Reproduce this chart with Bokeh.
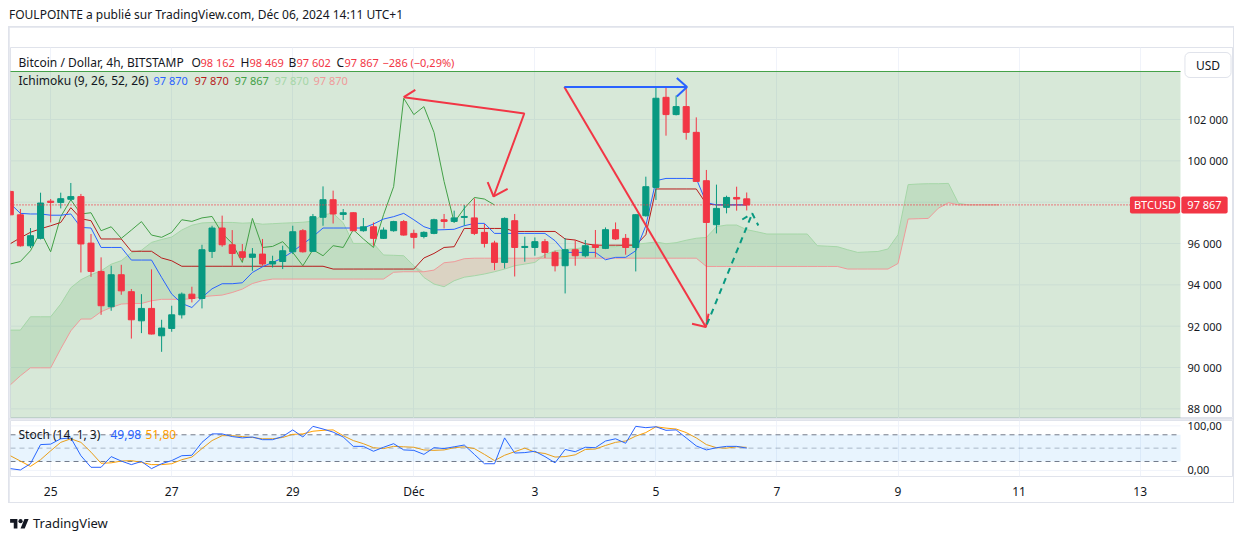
import numpy as np
from bokeh.plotting import figure
from bokeh.models import Range1d, FixedTicker, Label, BoxAnnotation, Div, Grid
from bokeh.layouts import column
from bokeh.embed import file_html
from bokeh.resources import INLINE

# ---------------- data ----------------
# 4h bars, bar 0 = 25 Nov 00:00, 6 bars per day
bars = list(range(-4, 70))
opens = [98520, 97390, 95890, 96250, 98050, 97990, 98140, 98270, 96020, 94650,
         92940, 94490, 93670, 92260, 92860, 91535, 91890, 92550, 93550, 93340,
         95620, 96750, 95940, 95600, 95330, 95490, 95010, 95130, 95600, 96620,
         95620, 97270, 98120, 97410, 97490, 96620, 96810, 96250, 96620, 97060,
         96490, 96340, 96490, 97150, 97070, 97265, 97240, 96540, 96025, 95085,
         97105, 95810, 95810, 96090, 95570, 94925, 95700, 95410, 95930, 95765,
         96670, 96250, 95810, 97345, 98715, 103075, 102240, 102625, 101380, 99040,
         96910, 97750, 98230, 98162]
highs = [98560, 97670, 96750, 98460, 98155, 98460, 98930, 98400, 96460, 95330,
         94925, 94970, 93800, 93550, 94750, 92310, 92990, 93630, 93910, 95940,
         96860, 97350, 96650, 95975, 95780, 96220, 95410, 95895, 96860, 96700,
         97430, 98765, 98560, 97670, 97520, 97235, 97020, 96780, 97100, 97140,
         96670, 96590, 97200, 97430, 97590, 97865, 98185, 96945, 96135, 97265,
         97430, 96330, 96295, 96220, 95650, 96265, 96170, 96170, 96655, 96780,
         97020, 96460, 97420, 99235, 103530, 103595, 103160, 103595, 102105, 99560,
         98850, 98315, 98750, 98469]
lows = [97350, 95850, 95780, 96200, 97020, 97700, 98070, 94600, 94390, 92550,
        92745, 93520, 91400, 91665, 91600, 90760, 91730, 92370, 93150, 92860,
        95300, 95845, 94925, 95170, 94680, 94925, 94840, 94765, 95490, 95560,
        95600, 96860, 96970, 97140, 96600, 96570, 95895, 96220, 96570, 96380,
        95760, 96250, 96450, 96730, 97020, 96860, 96410, 95810, 94715, 94795,
        94405, 95120, 95410, 95300, 94650, 93585, 94925, 95330, 95330, 95730,
        96170, 95460, 94650, 97300, 98105, 101220, 102200, 101025, 99000, 92250,
        96490, 97460, 97590, 97602]
closes = [97390, 95890, 96380, 97960, 97990, 98170, 98270, 95980, 94650, 92990,
          94490, 93710, 92310, 92860, 91620, 91910, 92550, 93550, 93340, 95700,
          96750, 95940, 95520, 95330, 95490, 95010, 95130, 95650, 96570, 95600,
          97300, 98120, 97430, 97490, 96620, 96810, 96250, 96650, 97060, 96410,
          96300, 96540, 97150, 97070, 97240, 97310, 96490, 96005, 95085, 97215,
          95810, 95860, 96090, 95570, 94925, 95700, 95410, 95895, 95810, 96670,
          96220, 95810, 97395, 98750, 103030, 102240, 102625, 101380, 99005, 97020,
          97700, 98230, 98153, 97867]

# Ichimoku (9, 26, 52, 26)
tenkan = [97930, 97460, 97430, 97430, 97370, 97370, 97430, 96780, 96750, 95810,
          95810, 95810, 95200, 95200, 95200, 94360, 93555, 93100, 92905, 93390,
          93810, 94055, 94055, 94100, 94600, 94875, 95085, 95300, 95615, 95975,
          96330, 96750, 96750, 96750, 96750, 96750, 96945, 97185, 97300, 97460,
          97150, 96815, 96655, 96670, 96690, 96860, 96975, 96975, 96490, 96490,
          96490, 96490, 96490, 96490, 96135, 95570, 95570, 95570, 95570, 95215,
          95330, 95330, 95650, 96860, 99040, 99150, 99150, 99150, 99140, 97975,
          97870, 97870, 97870, 97870]
kijun = [95990, 96280, 96545, 96715, 96860, 97020, 97735, 97200, 97105, 96220,
         96220, 96220, 95625, 95625, 95625, 95300, 95165, 94900, 94900, 94900,
         94900, 94900, 94900, 94900, 94900, 94900, 94900, 94900, 94900, 94900,
         94900, 94900, 94765, 94765, 94765, 94765, 94765, 94765, 94765, 94765,
         94765, 95300, 95520, 95810, 95845, 96730, 96730, 96730, 96730, 96730,
         96585, 96585, 96585, 96585, 96585, 96220, 96170, 95990, 95920, 95920,
         95920, 95920, 95920, 96425, 98640, 98640, 98640, 98640, 98640, 97915,
         97870, 97870, 97870, 97870]
lag_shift = 25  # lagging span = closes drawn 25 bars back
lead_bars = list(range(-4, 95))
span_a = [91810, 91810, 92455, 92455, 92455, 93070, 93860, 94250, 94490, 94680,
          95000, 95170, 95555, 95675, 96055, 96195, 96315, 96655, 96885, 96995,
          97020, 97020, 97020, 96985, 97005, 96935, 96960, 96985, 97005, 97030,
          97080, 97395, 97460, 97005, 96005, 96005, 96005, 95445, 95430, 95410,
          94925, 94360, 94040, 93910, 94200, 94370, 94440, 94525, 94635, 94765,
          94925, 95005, 95085, 95460, 95650, 95715, 95750, 95810, 95830, 95845,
          95845, 95950, 95965, 96015, 96075, 95990, 96040, 96160, 96255, 96295,
          96815, 96895, 96895, 96670, 96570, 96460, 96460, 96460, 96460, 96460,
          95895, 95870, 95845, 95700, 95570, 95595, 95615, 95735, 96425, 98850,
          98880, 98895, 98895, 98910, 97940, 97870, 97870, 97870, 97870]
span_b = [89160, 89600, 89985, 89985, 89985, 90905, 91775, 92345, 92345, 92700,
          92905, 93070, 93100, 93100, 93230, 93300, 93300, 93300, 93325, 93425,
          93470, 93505, 93630, 93795, 94065, 94200, 94280, 94280, 94280, 94280,
          94280, 94280, 94280, 94280, 94280, 94280, 94280, 94280, 94610, 94635,
          94635, 94635, 94715, 95070, 95120, 95265, 95290, 95290, 95290, 95290,
          95290, 95290, 95290, 95290, 95290, 95290, 95290, 95290, 95290, 95290,
          95290, 95290, 95290, 95290, 95290, 95290, 95290, 95290, 95290, 94890,
          94890, 94890, 94890, 94890, 94890, 94890, 94890, 94890, 94890, 94890,
          94890, 94890, 94890, 94765, 94765, 94765, 94765, 94765, 95035, 97185,
          97200, 97215, 97710, 97975, 97870, 97870, 97870, 97870, 97870]

# Stochastic (14, 1, 3)
stoch_k = [4, 1, 15, 58, 59, 71, 73, 33, 7, 7, 31, 21, 13, 20, 4, 15, 22, 33, 34, 63,
           82, 82, 76, 73, 75, 69, 69, 76, 91, 75, 99, 93, 86, 75, 54, 54, 43, 52, 60, 46,
           45, 36, 51, 49, 53, 57, 36, 15, 15, 73, 39, 40, 43, 31, 17, 47, 42, 52, 51, 66,
           71, 61, 99, 96, 98, 90, 91, 73, 55, 46, 51, 54, 54, 49.98]
stoch_d = [33, 21, 9, 24, 44, 63, 71, 63, 41, 16, 17, 21, 22, 18, 13, 13, 15, 24, 30, 49,
           67, 78, 78, 76, 74, 71, 71, 74, 81, 82, 88, 90, 91, 78, 67, 60, 51, 49, 54, 53,
           52, 46, 45, 46, 51, 53, 49, 36, 22, 34, 42, 50, 41, 38, 30, 31, 35, 47, 48, 56,
           63, 66, 77, 85, 98, 95, 93, 85, 73, 58, 51, 50, 53, 51.8]

day_ticks = [0, 12, 24, 36, 48, 60, 72, 84, 96, 108]
day_labels = ["25", "27", "29", "Déc", "3", "5", "7", "9", "11", "13"]
price_ticks = [88000, 90000, 92000, 94000, 96000, 98000, 100000, 102000]
stoch_ticks = [0, 100]
stoch_tick_labels = ["0,00", "100,00"]
stoch_levels = [80, 50, 20]

# author's drawings: (bar, price) points
rect_top = 104325
arrow1_x = [35.0, 46.95, 43.91]
arrow1_y = [103081, 102292, 98276]
arrow1_tail_x = [36.15, 35.0]
arrow1_tail_y = [103439, 103081]
arrow1_head_x = [43.32, 43.91, 45.30]
arrow1_head_y = [98968, 98276, 98648]
blue_x = [50.92, 63.08]
blue_y = [103570, 103570]
blue_head_x = [62.07, 63.08, 62.07]
blue_head_y = [104010, 103570, 103110]
red2_x = [50.92, 64.95]
red2_y = [103570, 91961]
red2_head_x = [63.58, 64.95, 65.22]
red2_head_y = [92116, 91961, 92600]
green_x = [65.05, 69.55]
green_y = [92082, 97453]
green_head_x = [68.56, 69.55, 70.15]
green_head_y = [97163, 97453, 96873]

# ---------------- styling ----------------
FONT = "Noto Sans"
TXT = "#131722"
UP = "#089981"
DN = "#F23645"
GRID = "#f0f3fa"
K_COL = "#2962FF"
D_COL = "#FFA000"

# frame spans the pane and its price scale (page px 10 .. 1233); pane ends at px 1180
FW, FH, SH = 1223, 371, 56
PX_PER_BAR = 1170 / 115.98
XL = -3.98
XR = XL + FW / PX_PER_BAR
YB, YT = 87533, 105486
SB, ST = -13.7, 112.1


def fmt(v):
    return f"{int(round(v)):,}".replace(",", " ")


def X(px):
    return XL + (px - 10) * (XR - XL) / FW


def Y(py):
    return YT - (py - 47) * (YT - YB) / FH


def SY(py):
    return ST - (py - 420) * (ST - SB) / SH


PANE_R = X(1180)
x_rng = Range1d(XL, XR)


def style_axis(axx, standoff, size):
    axx.axis_line_color = None
    axx.major_tick_line_color = None
    axx.minor_tick_line_color = None
    axx.major_tick_out = 0
    axx.major_tick_in = 0
    axx.minor_tick_out = 0
    axx.major_label_standoff = standoff
    axx.major_label_text_font = FONT
    axx.major_label_text_font_size = size
    axx.major_label_text_color = TXT


def lab(fig, x, y, text, color=TXT, size="12px", align="left", **kw):
    fig.add_layout(Label(x=x, y=y, text=text, text_color=color, text_font=FONT,
                         text_font_size=size, text_align=align, text_baseline="middle", **kw))


# ---------------- main pane ----------------
p = figure(frame_width=FW, frame_height=FH, x_range=x_rng, y_range=Range1d(YB, YT),
           output_backend="svg", toolbar_location=None, x_axis_location=None,
           y_axis_location="right", min_border_left=1, min_border_right=0,
           min_border_top=20, min_border_bottom=0)
p.outline_line_color = "#e0e3eb"
p.background_fill_color = "white"
p.grid.visible = False
p.add_layout(Grid(dimension=0, ticker=FixedTicker(ticks=day_ticks), grid_line_color=GRID), "center")
p.segment(x0=XL, x1=PANE_R, y0=price_ticks, y1=price_ticks, line_color=GRID, line_width=1)
ax = p.yaxis[0]
ax.ticker = FixedTicker(ticks=price_ticks)
ax.major_label_overrides = {t: fmt(t) for t in price_ticks}
style_axis(ax, -46, "11px")

# green rectangle drawing
p.quad(left=XL - 50, right=PANE_R, bottom=70000, top=rect_top, fill_color="#388e3c",
       fill_alpha=0.2, line_color=None)
p.line([XL - 50, PANE_R], [rect_top, rect_top], line_color="#43a047", line_width=1)

# cloud
a = np.array(span_a, dtype=float)
b = np.array(span_b, dtype=float)
p.varea(x=lead_bars, y1=b, y2=np.maximum(a, b), fill_color="#43a047", fill_alpha=0.15)
p.varea(x=lead_bars, y1=a, y2=np.maximum(a, b), fill_color="#f44336", fill_alpha=0.13)
p.line(lead_bars, span_a, line_color="#A5D6A7", line_width=1)
p.line(lead_bars, span_b, line_color="#EF9A9A", line_width=1)
p.line(bars[:len(bars) - lag_shift], closes[lag_shift:], line_color="#43A047", line_width=1)
p.line(bars, kijun, line_color="#B71C1C", line_width=1)
p.line(bars, tenkan, line_color="#2962FF", line_width=1)

# candles
up = [i for i in range(len(bars)) if closes[i] >= opens[i]]
dn = [i for i in range(len(bars)) if closes[i] < opens[i]]
for idx, col in ((up, UP), (dn, DN)):
    xs = [bars[i] for i in idx]
    p.segment(x0=xs, y0=[lows[i] for i in idx], x1=xs, y1=[highs[i] for i in idx],
              line_color=col, line_width=1)
    p.vbar(x=xs, width=0.6, top=[max(opens[i], closes[i]) for i in idx],
           bottom=[min(opens[i], closes[i]) for i in idx], fill_color=col,
           line_color=col, line_width=1)

# last price line
p.line([XL, PANE_R], [closes[-1], closes[-1]], line_color=DN, line_dash="1 2", line_width=1.2)

# drawings
for xs, ys in ((arrow1_x, arrow1_y), (arrow1_tail_x, arrow1_tail_y), (arrow1_head_x, arrow1_head_y),
               (red2_x, red2_y), (red2_head_x, red2_head_y)):
    p.line(xs, ys, line_color="#F23645", line_width=2)
p.line(blue_x, blue_y, line_color="#2962FF", line_width=2)
p.line(blue_head_x, blue_head_y, line_color="#2962FF", line_width=2)
p.line(green_x, green_y, line_color=UP, line_width=2, line_dash="6 5")
p.line(green_head_x, green_head_y, line_color=UP, line_width=2, line_dash="6 5")

# legend rows
chg = closes[-1] - closes[-2]
pct = chg / closes[-2] * 100
row1 = [(18, "Bitcoin / Dollar, 4h, BITSTAMP", TXT, "12px"),
        (191, "O", TXT, "12px"), (200, fmt(opens[-1]), DN, "11px"),
        (240, "H", TXT, "12px"), (249, fmt(highs[-1]), DN, "11px"),
        (288, "B", TXT, "12px"), (296, fmt(lows[-1]), DN, "11px"),
        (336, "C", TXT, "12px"), (344, fmt(closes[-1]), DN, "11px"),
        (382, f"−{abs(int(round(chg)))} (−{abs(pct):.2f}%)".replace(".", ","), DN, "11px")]
for px, t, c, fs in row1:
    lab(p, X(px), Y(62), t, c, fs)
row2 = [(18, "Ichimoku (9, 26, 52, 26)", TXT, "12px"),
        (153, fmt(tenkan[-1]), "#2962FF", "11px"),
        (194, fmt(kijun[-1]), "#B71C1C", "11px"),
        (234, fmt(closes[-1]), "#43A047", "11px"),
        (274, fmt(span_a[-1]), "#A5D6A7", "11px"),
        (313, fmt(span_b[-1]), "#EF9A9A", "11px")]
for px, t, c, fs in row2:
    lab(p, X(px), Y(80), t, c, fs)

# price tags and currency button
lab(p, X(1154.5), closes[-1], "BTCUSD", "white", "11px", "center",
    background_fill_color=DN, padding=(4, 1), border_radius=2)
lab(p, X(1204), closes[-1], fmt(closes[-1]), "white", "11px", "center",
    background_fill_color=DN, padding=(6, 1), border_radius=2)
lab(p, X(1207.5), Y(64.5), "USD", TXT, "12px", "center",
    background_fill_color="white", border_line_color="#e0e3eb", border_line_width=1,
    padding=(11, 4), border_radius=5)

# ---------------- stochastic pane ----------------
s = figure(frame_width=FW, frame_height=SH, x_range=x_rng, y_range=Range1d(SB, ST),
           output_backend="svg", toolbar_location=None, y_axis_location="right",
           min_border_left=1, min_border_right=0, min_border_top=1, min_border_bottom=26)
s.outline_line_color = "#e0e3eb"
s.background_fill_color = "white"
s.grid.visible = False
s.add_layout(Grid(dimension=0, ticker=FixedTicker(ticks=day_ticks), grid_line_color=GRID), "center")
s.segment(x0=XL, x1=PANE_R, y0=stoch_ticks, y1=stoch_ticks, line_color=GRID, line_width=1)
s.add_layout(BoxAnnotation(left=XL, right=PANE_R, bottom=stoch_levels[2], top=stoch_levels[0],
                           fill_color="#2196F3", fill_alpha=0.1, line_color=None))
for lv, al in zip(stoch_levels, (1.0, 0.5, 1.0)):
    s.line([XL, PANE_R], [lv, lv], line_color="#787B86", line_alpha=al,
           line_dash="5 4", line_width=1)
s.line(bars, stoch_d, line_color=D_COL, line_width=1)
s.line(bars, stoch_k, line_color=K_COL, line_width=1)

sy = s.yaxis[0]
sy.ticker = FixedTicker(ticks=stoch_ticks)
sy.major_label_overrides = dict(zip(stoch_ticks, stoch_tick_labels))
style_axis(sy, -46, "11px")
sx = s.xaxis[0]
sx.ticker = FixedTicker(ticks=day_ticks)
sx.major_label_overrides = dict(zip(day_ticks, day_labels))
style_axis(sx, 6, "12px")

lab(s, X(18), SY(434), "Stoch (14, 1, 3)")
lab(s, X(110), SY(434), f"{stoch_k[-1]:.2f}".replace(".", ","), K_COL)
lab(s, X(145), SY(434), f"{stoch_d[-1]:.2f}".replace(".", ","), D_COL)

# ---------------- page ----------------
p.margin = (1, 1, 0, 1)
s.margin = (1, 1, 1, 1)
inner = column(p, s, styles={"background-color": "#e0e3eb"}, margin=(0, 0, 0, 8))

header = Div(text="FOULPOINTE a publié sur TradingView.com, Déc 06, 2024 14:11 UTC+1",
             width=1225, height=18, margin=(8, 0, 0, 9),
             styles={"font-family": "'Noto Sans'", "font-size": "12px", "color": TXT,
                     "line-height": "13px"})
logo = ('<svg width="19" height="12" viewBox="0 0 36 23" style="margin-right:4px">'
        '<path d="M14 22H7V11H0V4h14v18z" fill="#131722"/>'
        '<circle cx="20" cy="8" r="4" fill="#131722"/>'
        '<path d="M28 22h-8l7.5-18h8z" fill="#131722"/></svg>')
footer = Div(text=('<div style="display:flex;align-items:center;margin-top:11px;'
                   'font-family:\'Noto Sans\';font-size:13px;color:#131722">' + logo +
                   '<span>TradingView</span></div>'), width=1200, height=30,
             margin=(0, 0, 0, 10))

page = column(header, inner, footer)
open("out.html", "w").write(file_html(page, INLINE, title="BTCUSD"))
